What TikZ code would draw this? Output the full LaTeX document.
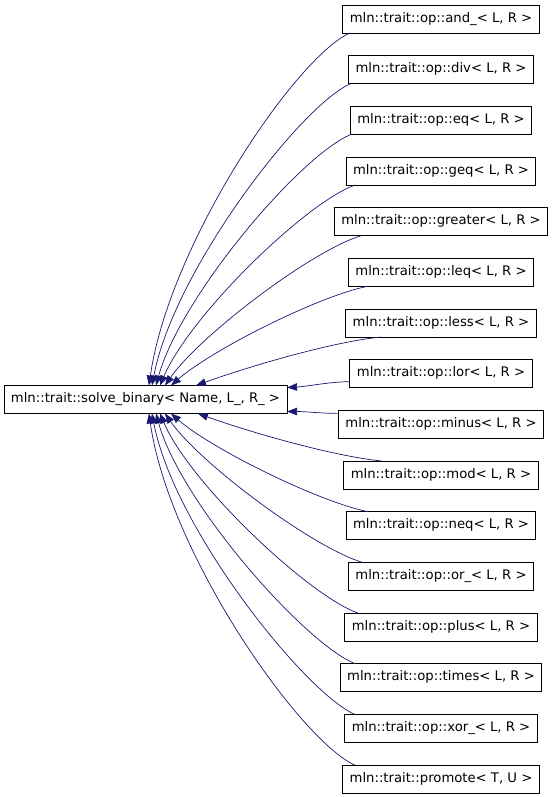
\documentclass[tikz,border=0pt]{standalone}
\usepackage{fontspec}
\setmainfont{DejaVu Sans}
\usepackage{xcolor}
\usetikzlibrary{arrows.meta,positioning}
\definecolor{edgeblue}{HTML}{191970}

\begin{document}
\begin{tikzpicture}[
    x=1pt, y=1pt,
    node distance=22.67pt,
    cls/.style={draw, line width=0.9pt, outer sep=0pt, minimum height=28pt, inner xsep=7pt, inner ysep=0pt,
                text height=9.6pt, text depth=3.2pt, font=\fontsize{13.2pt}{15pt}\selectfont},
    inh/.style={-{Triangle[length=10pt,width=7.5pt]}, color=edgeblue, line width=0.7pt},
  ]
  \useasboundingbox (0,0) rectangle (552,-797);

  \node[cls] (base) at (145.5,-399.5) {mln::trait::solve\_binary< Name, L\_, R\_ >};

  \node[cls] (and) at (441,-19) {mln::trait::op::and\_< L, R >};
  \node[cls, below=of and]     (div)     {mln::trait::op::div< L, R >};
  \node[cls, below=of div]     (eq)      {mln::trait::op::eq< L, R >};
  \node[cls, below=of eq]      (geq)     {mln::trait::op::geq< L, R >};
  \node[cls, below=of geq]     (greater) {mln::trait::op::greater< L, R >};
  \node[cls, below=of greater] (leq)     {mln::trait::op::leq< L, R >};
  \node[cls, below=of leq]     (less)    {mln::trait::op::less< L, R >};
  \node[cls, below=of less]    (lor)     {mln::trait::op::lor< L, R >};
  \node[cls, below=of lor]     (minus)   {mln::trait::op::minus< L, R >};
  \node[cls, below=of minus]   (mod)     {mln::trait::op::mod< L, R >};
  \node[cls, below=of mod]     (neq)     {mln::trait::op::neq< L, R >};
  \node[cls, below=of neq]     (or)      {mln::trait::op::or\_< L, R >};
  \node[cls, below=of or]      (plus)    {mln::trait::op::plus< L, R >};
  \node[cls, below=of plus]    (times)   {mln::trait::op::times< L, R >};
  \node[cls, below=of times]   (xor)     {mln::trait::op::xor\_< L, R >};
  \node[cls, below=of xor]     (promote) {mln::trait::promote< T, U >};

  \draw[inh] ([xshift=7pt]and.south west) .. controls +(-55,-25) and +(20,140) .. ([xshift=145pt]base.north west);
  \draw[inh] ([xshift=2pt]div.south west) .. controls +(-50,-22) and +(22,115) .. ([xshift=148pt]base.north west);
  \draw[inh] ([xshift=1pt]eq.south west) .. controls +(-50,-20) and +(25,90) .. ([xshift=152pt]base.north west);
  \draw[inh] ([xshift=9pt]geq.south west) .. controls +(-50,-18) and +(30,70) .. ([xshift=156pt]base.north west);
  \draw[inh] ([xshift=27pt]greater.south west) .. controls +(-50,-15) and +(35,50) .. ([xshift=161pt]base.north west);
  \draw[inh] ([xshift=19pt]leq.south west) .. controls +(-50,-10) and +(40,35) .. ([xshift=167pt]base.north west);
  \draw[inh] ([xshift=35pt]less.south west) .. controls +(-50,-5) and +(50,18) .. ([xshift=192pt]base.north west);
  \draw[inh] ([yshift=6pt]lor.south west) .. controls +(-20,0) and +(20,1) .. ([yshift=-2pt]base.north east);
  \draw[inh] ([yshift=-3pt]minus.north west) .. controls +(-20,0) and +(20,0) .. ([yshift=2pt]base.south east);
  \draw[inh] ([xshift=38pt]mod.north west) .. controls +(-50,5) and +(50,-18) .. ([xshift=194pt]base.south west);
  \draw[inh] ([xshift=22pt]neq.north west) .. controls +(-50,10) and +(40,-35) .. ([xshift=167pt]base.south west);
  \draw[inh] ([xshift=14pt]or.north west) .. controls +(-50,15) and +(35,-50) .. ([xshift=161pt]base.south west);
  \draw[inh] ([xshift=13pt]plus.north west) .. controls +(-50,18) and +(30,-70) .. ([xshift=156pt]base.south west);
  \draw[inh] ([xshift=15pt]times.north west) .. controls +(-50,20) and +(25,-90) .. ([xshift=152pt]base.south west);
  \draw[inh] ([xshift=10pt]xor.north west) .. controls +(-50,22) and +(22,-115) .. ([xshift=148pt]base.south west);
  \draw[inh] ([xshift=12pt]promote.north west) .. controls +(-55,25) and +(20,-140) .. ([xshift=145pt]base.south west);
\end{tikzpicture}
\end{document}
